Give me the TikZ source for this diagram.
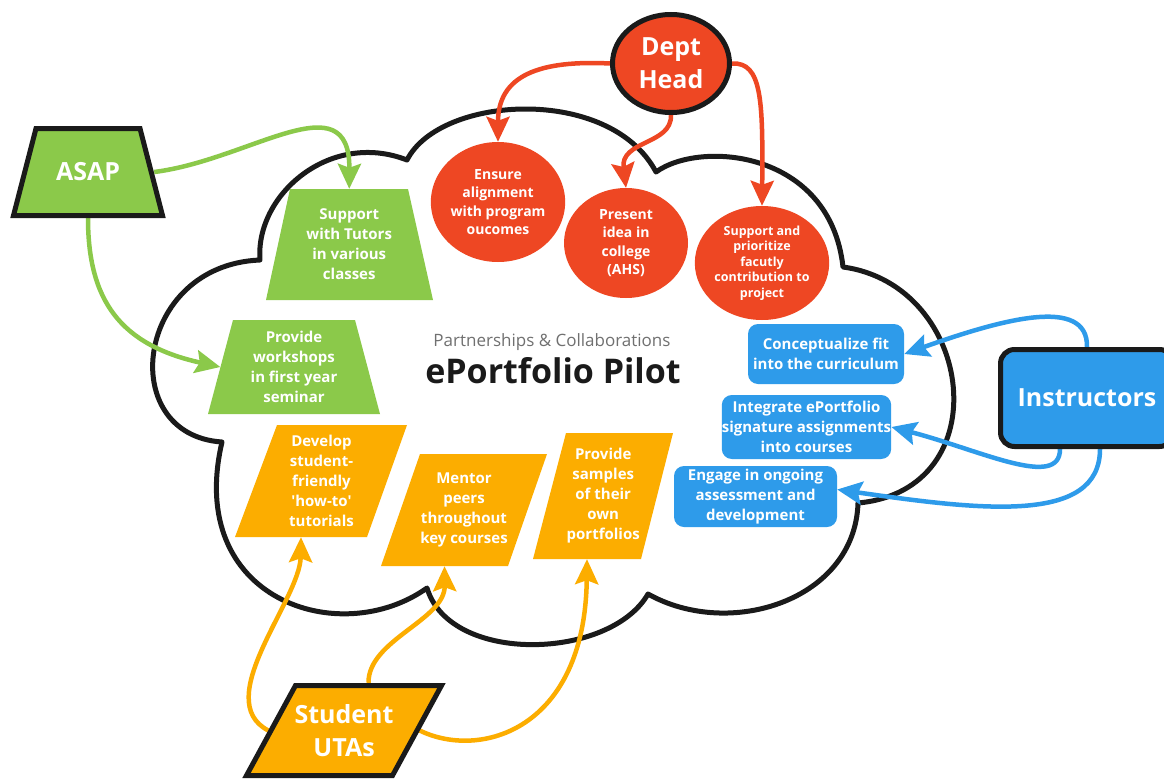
\documentclass[tikz,border=0pt]{standalone}
\usepackage{fontspec}
\setmainfont{Open Sans}
\usetikzlibrary{arrows.meta,shapes.geometric}
\definecolor{cgreen}{HTML}{8BC94A}
\definecolor{corange}{HTML}{FCAD00}
\definecolor{cred}{HTML}{EE4723}
\definecolor{cblue}{HTML}{2E9BEA}
\definecolor{cblack}{HTML}{1A1A1A}
\definecolor{cgray}{HTML}{707070}
\font\qf="Open Sans/B" at 15pt
\newcommand\sq{{\qf\char39}}
\pgfdeclarelayer{back}
\pgfdeclarelayer{mid}
\pgfsetlayers{back,mid,main}
\begin{document}
\begin{tikzpicture}[x=1pt,y=-1pt,
  lbl/.style={text=white, font=\fontsize{15}{20}\selectfont\bfseries, align=center, inner sep=0pt},
  lblr/.style={text=white, font=\fontsize{14}{18.3}\selectfont\bfseries, align=center, inner sep=0pt},
  lbls/.style={text=white, font=\fontsize{12.5}{15.6}\selectfont\bfseries, align=center, inner sep=0pt},
  big/.style={text=white, font=\fontsize{25}{33}\selectfont\bfseries, align=center, inner sep=0pt},
  area/.style 2 args={draw=none, minimum width=#1, minimum height=#2},
  redcirc/.style={ellipse, fill=cred, inner sep=0pt},
  bluebox/.style={fill=cblue, rounded corners=10pt, inner sep=0pt},
  cloudline/.style={draw=cblack, line width=5pt, line join=round},
  conn/.style={line width=4.5pt, -{Stealth[length=25pt,width=23pt,inset=4pt]}},
  border/.style={draw=cblack, line width=5pt, line join=miter}]

\useasboundingbox (0,0) rectangle (1164,779);
\begin{pgfonlayer}{back}
\fill[white] (0,0) rectangle (1164,779);
\end{pgfonlayer}

% ---- shapes (polygons) ----
\filldraw[fill=cgreen, border] (36,128.5) -- (140,128.5) -- (162.5,215.5) -- (13.5,215.5) -- cycle;
\fill[cgreen] (290,189) -- (408,189) -- (433,300) -- (266,300) -- cycle;
\fill[cgreen] (233,320) -- (355,320) -- (380,414) -- (208,414) -- cycle;
\fill[corange] (277,425) -- (407,425) -- (367,537) -- (235,537) -- cycle;
\fill[corange] (420,454) -- (547,454) -- (508,566) -- (381,566) -- cycle;
\fill[corange] (566,433) -- (673,433) -- (641,559) -- (533,559) -- cycle;
\filldraw[fill=corange, border] (295.5,685.5) -- (441.5,685.5) -- (392.5,775.5) -- (246.5,775.5) -- cycle;

% ---- nodes ----
\node[big, area={132pt}{92pt}] (asap) at (88,172) {ASAP};
\node[lbl, area={142.5pt}{111pt}] (sup) at (349.25,244.5) {Support\\with Tutors\\in various\\classes};
\node[lbl, area={147pt}{94pt}] (ws) at (294,367) {Provide\\workshops\\in first year\\seminar};
\node[lbl, area={131pt}{112pt}] (dev) at (321.5,481) {Develop\\student-\\friendly\\\sq how-to\sq\\tutorials};
\node[lbl, area={127pt}{112pt}] (mentor) at (464,510) {Mentor\\peers\\throughout\\key courses};
\node[lbl, area={107.5pt}{126pt}] (samp) at (603.25,496) {Provide\\samples\\of their\\own\\portfolios};
\node[big, area={151pt}{95pt}] (uta) at (344,730.5) {Student\\UTAs};

\node[redcirc, big, draw=cblack, line width=5pt, minimum width=117pt, minimum height=98pt] (head) at (671,63.5) {Dept\\Head};
\node[redcirc, lblr, minimum width=131pt, minimum height=120pt] (ensure) at (498,202) {Ensure\\alignment\\with program\\oucomes};
\node[redcirc, lblr, minimum width=124pt, minimum height=110pt] (present) at (626,243) {Present\\idea in\\college\\(AHS)};
\node[redcirc, lbls, minimum width=130pt, minimum height=114pt] (prior) at (762,263) {Support and\\prioritize\\facutly\\contribution to\\project};

\node[bluebox, lbl, minimum width=156pt, minimum height=60pt] (concept) at (826,354) {Conceptualize fit\\into the curriculum};
\node[bluebox, lbl, minimum width=167pt, minimum height=64pt] (integ) at (806.5,427) {Integrate ePortfolio\\signature assignments\\into courses};
\node[bluebox, lbl, minimum width=163pt, minimum height=61pt] (engage) at (755.5,496.5) {Engage in ongoing\\assessment and\\development};
\node[bluebox, big, draw=cblack, line width=5pt, rounded corners=14pt, minimum width=173pt, minimum height=97pt] (instr) at (1087,398) {Instructors};

\node[text=cgray, font=\fontsize{17}{20}\selectfont, inner sep=0pt] (sub) at (552,342) {Partnerships \& Collaborations};
\node[text=cblack, font=\fontsize{34}{40}\selectfont\bfseries, inner sep=0pt] (title) at (553,371) {ePortfolio Pilot};

% ---- cloud and connectors ----
\begin{pgfonlayer}{mid}
\draw[cloudline] (260,260) .. controls (255,195) and (330,130) .. (407,160)
  .. controls (440,95) and (610,85) .. (656,172)
  .. controls (700,140) and (830,150) .. (843,267)
  .. controls (975,285) and (1000,490) .. (858,503)
  .. controls (855,600) and (730,640) .. (648,594)
  .. controls (610,660) and (450,665) .. (427,588)
  .. controls (340,650) and (185,600) .. (222,442)
  .. controls (115,435) and (135,265) .. cycle;

\draw[conn, cgreen] (asap.east) .. controls (250,160) and (350,80) .. (sup.north);
\draw[conn, cgreen] (asap.south) .. controls (88,300) and (120,345) .. (ws.west);
\draw[conn, cred] (head.west) .. controls (540,60) and (498,75) .. (ensure.north);
\draw[conn, cred] (head.south) .. controls (672,145) and (620,140) .. (present.north);
\draw[conn, cred] (head.east) .. controls (762,62) and (763,100) .. (prior.north);
\draw[conn, cblue] (instr.north) .. controls (1088,295) and (1000,320) .. (concept.east);
\draw[conn, cblue] ([xshift=-27pt]instr.south) .. controls (1060,490) and (980,450) .. (integ.east);
\draw[conn, cblue] ([xshift=13pt]instr.south) .. controls (1100,525) and (980,510) .. ([yshift=7pt]engage.east);
\draw[conn, corange] (uta.west) .. controls (210,700) and (300,600) .. ([xshift=-20.5pt]dev.south);
\draw[conn, corange] ([xshift=24.5pt]uta.north) .. controls (368,640) and (445,620) .. ([xshift=-19.5pt]mentor.south);
\draw[conn, corange] (uta.east) .. controls (480,760) and (585,730) .. ([xshift=-16.25pt]samp.south);
\end{pgfonlayer}
\end{tikzpicture}
\end{document}
